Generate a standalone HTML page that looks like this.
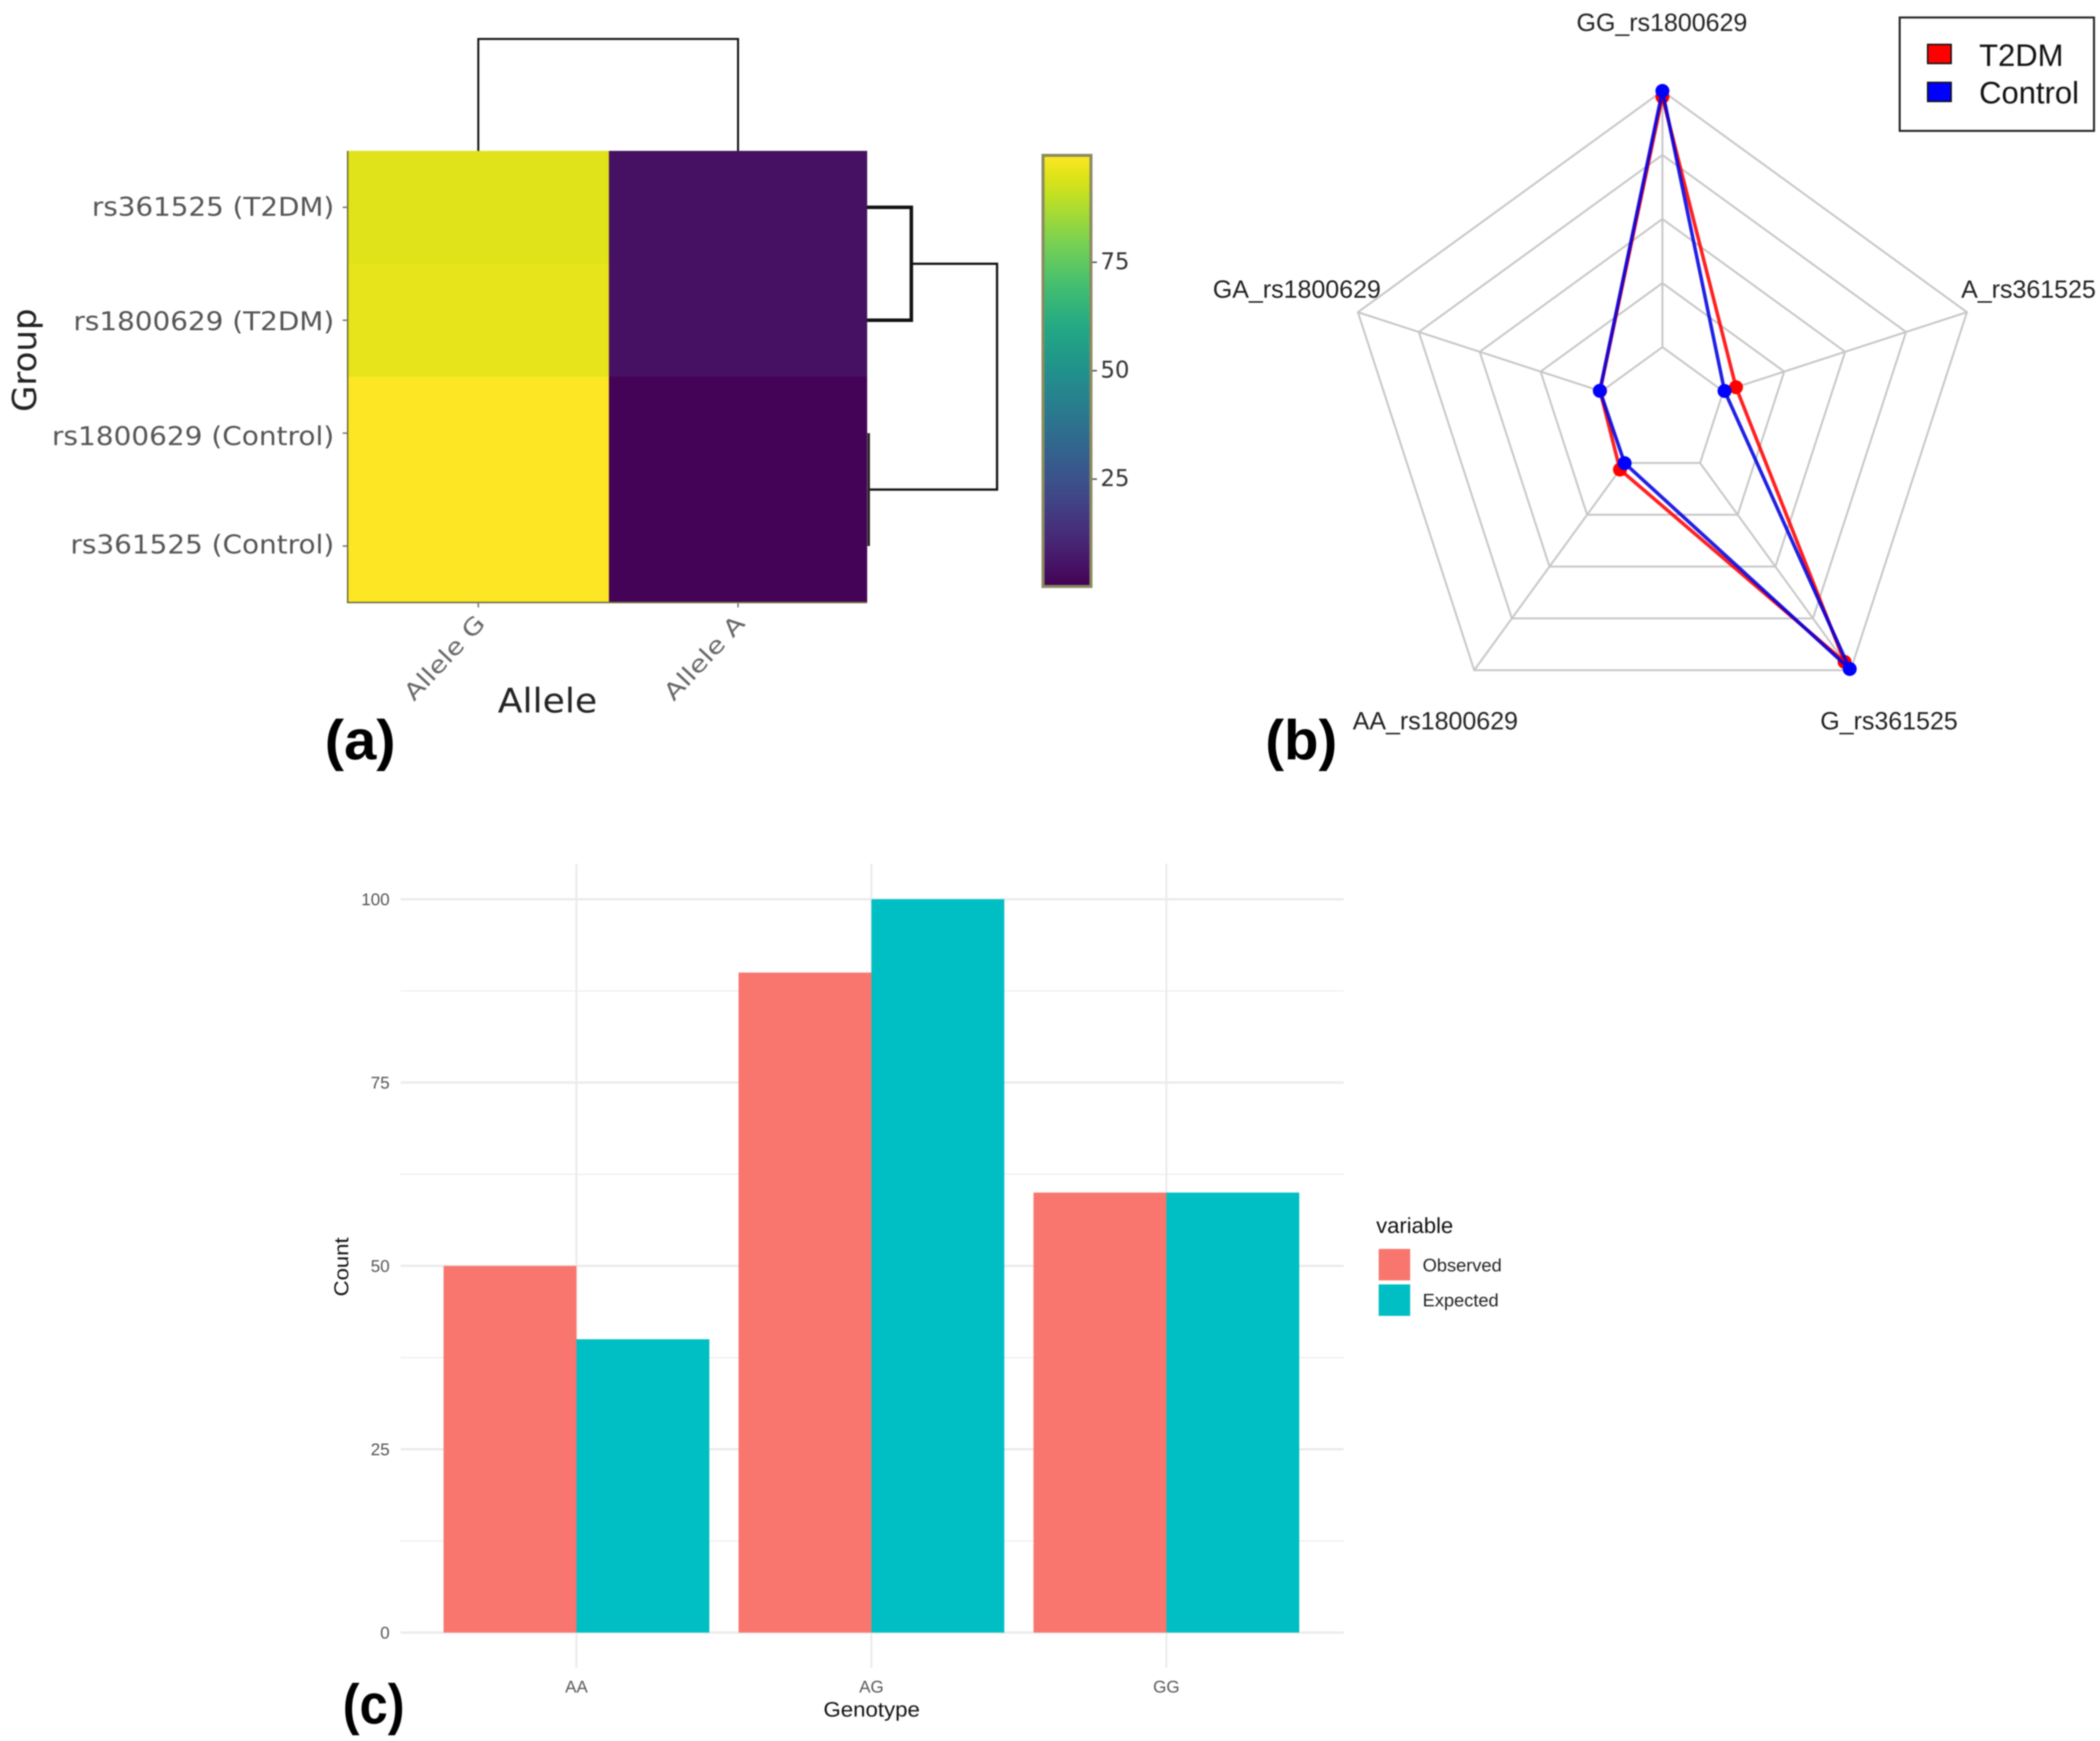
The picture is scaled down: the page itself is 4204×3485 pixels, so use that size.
<!DOCTYPE html>
<html lang="en">
<head>
<meta charset="utf-8">
<title>Allele heatmap, genotype radar and observed vs expected counts</title>
<style>
html,body{margin:0;padding:0;background:#fff;width:4204px;height:3485px;overflow:hidden}
svg{display:block;filter:blur(1.2px)}
text{font-family:"Liberation Sans",sans-serif}
.dv{font-family:"DejaVu Sans",sans-serif}
.pl{font-family:"Liberation Sans",sans-serif;font-weight:700;font-size:112px;fill:#000}
</style>
</head>
<body>
<svg id="figure" xmlns="http://www.w3.org/2000/svg" width="4204" height="3485" viewBox="0 0 4204 3485">
<rect width="4204" height="3485" fill="#fff"/>

<g id="panel-a">
  <defs>
    <linearGradient id="vir" x1="0" y1="1" x2="0" y2="0"></linearGradient>
  </defs>
  <g id="heat-cells"></g>
  <g id="heat-dendro"></g>
  <g id="heat-bar"></g>
  <g id="heat-labels"></g>
  <text class="dv" transform="translate(72,721) rotate(-90)" text-anchor="middle" font-size="66" fill="#222" textLength="207" lengthAdjust="spacingAndGlyphs">Group</text>
  <text class="dv" x="1096" y="1426" text-anchor="middle" font-size="68" fill="#222" textLength="199" lengthAdjust="spacingAndGlyphs">Allele</text>
  <text class="pl" x="650" y="1520" textLength="142" lengthAdjust="spacingAndGlyphs">(a)</text>
</g>

<g id="panel-b">
  <g id="radar-grid"></g>
  <g id="radar-series"></g>
  <g font-size="50" fill="#222">
    <text x="3327" y="62" text-anchor="middle">GG_rs1800629</text>
    <text x="3926" y="596">A_rs361525</text>
    <text x="3644" y="1460">G_rs361525</text>
    <text x="2708" y="1460">AA_rs1800629</text>
    <text x="2428" y="596">GA_rs1800629</text>
  </g>
  <g>
    <rect x="3803" y="35" width="389" height="227" fill="#fff" stroke="#222" stroke-width="4"/>
    <rect x="3859" y="89" width="47" height="38" fill="#f00" stroke="#111" stroke-width="3"/>
    <rect x="3859" y="165" width="47" height="38" fill="#00f" stroke="#111" stroke-width="3"/>
    <text x="3962" y="132" font-size="62" fill="#111">T2DM</text>
    <text x="3962" y="207" font-size="62" fill="#111">Control</text>
  </g>
  <text class="pl" x="2533" y="1520" textLength="144" lengthAdjust="spacingAndGlyphs">(b)</text>
</g>

<g id="panel-c">
  <g id="bar-grid"></g>
  <g id="bar-marks"></g>
  <g id="bar-ticks"></g>
  <text transform="translate(697,2536) rotate(-90)" text-anchor="middle" font-size="40" fill="#111" textLength="118" lengthAdjust="spacingAndGlyphs">Count</text>
  <text x="1745" y="3436" text-anchor="middle" font-size="42" fill="#111" textLength="193" lengthAdjust="spacingAndGlyphs">Genotype</text>
  <g>
    <text x="2755" y="2468" font-size="44" fill="#111">variable</text>
    <rect x="2760" y="2500" width="63" height="63" fill="#F8766D"/>
    <rect x="2760" y="2571" width="63" height="63" fill="#00BFC4"/>
    <text x="2848" y="2545" font-size="36.5" fill="#222">Observed</text>
    <text x="2848" y="2615" font-size="36.5" fill="#222">Expected</text>
  </g>
  <text class="pl" x="686" y="3450" textLength="124" lengthAdjust="spacingAndGlyphs">(c)</text>
</g>
</svg>

<script>
// ---------- Panel (a) heatmap data ----------
var heatRows = ['rs361525 (T2DM)', 'rs1800629 (T2DM)', 'rs1800629 (Control)', 'rs361525 (Control)'];
var heatCols = ['Allele G', 'Allele A'];
var heatAlleleG = [95.5, 96.5, 100, 100];
var heatAlleleA = [4.6, 4.6, 0.6, 0.6];
var colorbarTicks = [25, 50, 75];
var colTreeHeight = [1];
var rowTreeHeights = [0.34, 1];

// ---------- Panel (b) radar data ----------
var radarAxes = ['GG_rs1800629', 'A_rs361525', 'G_rs361525', 'AA_rs1800629', 'GA_rs1800629'];
var radarT2DM = [97.7, 5.2, 96.0, 3.2, 0.6];
var radarControl = [100, 0.5, 99.4, 0.1, 0.7];
var radarSegments = [0, 25, 50, 75, 100];

// ---------- Panel (c) bar data ----------
var genotypes = ['AA', 'AG', 'GG'];
var observedCounts = [50, 90, 60];
var expectedCounts = [40, 100, 60];
var countTicks = [0, 25, 50, 75, 100];
var countMinorTicks = [12.5, 37.5, 62.5, 87.5];

var NS = 'http://www.w3.org/2000/svg';
function make(parent, tag, attrs, txt) {
  var el = document.createElementNS(NS, tag);
  for (var k in attrs) el.setAttribute(k, attrs[k]);
  if (txt !== undefined) el.textContent = txt;
  document.getElementById(parent).appendChild(el);
  return el;
}

// ----- Viridis -----
var vStops = [[0,'#440154'],[.1,'#482475'],[.2,'#414487'],[.3,'#355f8d'],[.4,'#2a788e'],[.5,'#21918c'],[.6,'#22a884'],[.7,'#44bf70'],[.8,'#7ad151'],[.9,'#bddf26'],[.95,'#dde318'],[1,'#fde725']];
function hex(c){return [parseInt(c.substr(1,2),16),parseInt(c.substr(3,2),16),parseInt(c.substr(5,2),16)];}
function viridis(t){
  t = Math.max(0, Math.min(1, t));
  for (var i = 1; i < vStops.length; i++) {
    if (t <= vStops[i][0]) {
      var a = vStops[i-1], b = vStops[i], f = (t-a[0])/(b[0]-a[0]);
      var ca = hex(a[1]), cb = hex(b[1]);
      return 'rgb(' + ca.map(function(v,j){return Math.round(v+(cb[j]-v)*f);}).join(',') + ')';
    }
  }
  return '#fde725';
}
vStops.forEach(function(s, i){
  var st = make('vir', 'stop', {offset: s[0], 'stop-color': s[1]});
  
  
});

// ----- Heatmap -----
var hmLeft = 696, hmRight = 1736, hmTop = 302, hmBottom = 1206;
var colEdge = [696, 1219, 1736];
function rowTop(i){ return hmTop + (hmBottom - hmTop) * i / heatRows.length; }
function rowMid(i){ return rowTop(i + 0.5); }
function colMid(j){ return (colEdge[j] + colEdge[j+1]) / 2; }
function cval(v){ return v / 100; }
var hmSeries = [heatAlleleG, heatAlleleA];
hmSeries.forEach(function(vals, j){
  vals.forEach(function(v, i){
    var cell = make('heat-cells', 'rect', {x: colEdge[j], y: rowTop(i), width: colEdge[j+1]-colEdge[j], height: rowTop(i+1)-rowTop(i)+0.5, fill: viridis(cval(v))});
    
    
  });
});
var hmBorder = make('heat-cells', 'path', {d: 'M'+hmLeft+' '+hmTop+'V'+hmBottom+'H'+hmRight, fill: 'none', stroke: '#6b6b40', 'stroke-width': 3});



var rowWidths = [485, 522, 565, 528];
var rowNudge = [0, 3, 7, -2];
heatRows.forEach(function(lbl, i){
  var t = make('heat-labels', 'text', {'class': 'dv', x: 669, y: rowMid(i) + 17 + rowNudge[i], 'text-anchor': 'end', 'font-size': 52, fill: '#555', textLength: rowWidths[i], lengthAdjust: 'spacingAndGlyphs'}, lbl);
  
  
  var tk = make('heat-labels', 'line', {x1: 686, x2: 696, y1: rowMid(i), y2: rowMid(i), stroke: '#777', 'stroke-width': 3});
  
  
});
heatCols.forEach(function(lbl, j){
  var x = colMid(j);
  var t = make('heat-labels', 'text', {'class': 'dv', transform: 'translate(' + (x + 16) + ',1250) rotate(-47)', 'text-anchor': 'end', 'font-size': 46, fill: '#666', textLength: 212, lengthAdjust: 'spacingAndGlyphs'}, lbl);
  
  
  var tk = make('heat-labels', 'line', {x1: x, x2: x, y1: hmBottom, y2: hmBottom + 10, stroke: '#777', 'stroke-width': 3});
  
  
});

// Dendrograms
function treeTopY(h){ return hmTop - 224 * h; }
function treeRightX(h){ return 1736 + 260 * h; }
var d1 = make('heat-dendro', 'path', {d: 'M'+colMid(0)+' '+hmTop+'V'+treeTopY(colTreeHeight[0])+'H'+colMid(1)+'V'+hmTop, fill: 'none', stroke: '#111', 'stroke-width': 4});


var xIn = treeRightX(rowTreeHeights[0]), xOut = treeRightX(rowTreeHeights[1]);
var d2 = make('heat-dendro', 'path', {d: 'M1736 '+rowMid(0)+'H'+xIn+'V'+rowMid(1)+'H1736', fill: 'none', stroke: '#111', 'stroke-width': 7});


var midT = (rowMid(0)+rowMid(1))/2, midC = (rowMid(2)+rowMid(3))/2;
var d3 = make('heat-dendro', 'path', {d: 'M'+xIn+' '+midT+'H'+xOut+'V'+midC+'H1740', fill: 'none', stroke: '#111', 'stroke-width': 4.5});


var d4 = make('heat-dendro', 'path', {d: 'M1739 '+rowMid(2)+'V'+rowMid(3), fill: 'none', stroke: '#222', 'stroke-width': 5});



// Colorbar
function barY(v){ return 742 + (50 - v) * 8.68; }
var cb = make('heat-bar', 'rect', {x: 2088, y: 311, width: 96, height: 863, fill: 'url(#vir)', stroke: '#8a8a60', 'stroke-width': 6});


colorbarTicks.forEach(function(v){
  var tk = make('heat-bar', 'line', {x1: 2187, x2: 2196, y1: barY(v), y2: barY(v), stroke: '#555', 'stroke-width': 3});
  
  
  var t = make('heat-bar', 'text', {'class': 'dv', x: 2203, y: barY(v) + 14, 'font-size': 46, fill: '#333', textLength: 58, lengthAdjust: 'spacingAndGlyphs'}, String(v));
  
  
});

// ----- Radar -----
var rcx = 3328, rcy = 823, rR = 641;
function rRadius(v){ return rR * (1 + 4 * v / 100) / 5; }
function rPoint(i, v){
  var a = -Math.PI/2 + i * 2 * Math.PI / radarAxes.length, r = rRadius(v);
  return [rcx + r * Math.cos(a), rcy + r * Math.sin(a)];
}
radarSegments.forEach(function(s){
  var pts = radarAxes.map(function(_, i){ return rPoint(i, s).join(','); }).join(' ');
  var ring = make('radar-grid', 'polygon', {points: pts, fill: 'none', stroke: '#c8c8c8', 'stroke-width': 4});
  
  
});
radarAxes.forEach(function(_, i){
  var p0 = rPoint(i, 0), p1 = rPoint(i, 100);
  var sp = make('radar-grid', 'line', {x1: p0[0], y1: p0[1], x2: p1[0], y2: p1[1], stroke: '#c8c8c8', 'stroke-width': 4});
  
  
});
[[radarT2DM, '#f00', 't2dm'], [radarControl, '#0000e0', 'control']].forEach(function(s){
  var pts = s[0].map(function(v, i){ return rPoint(i, v); });
  var poly = make('radar-series', 'polygon', {points: pts.map(function(p){return p.join(',');}).join(' '), fill: 'none', stroke: s[1], 'stroke-width': 7, 'stroke-linejoin': 'round', opacity: 0.88});
  
  
  pts.forEach(function(p){
    var c = make('radar-series', 'circle', {cx: p[0], cy: p[1], r: 14, fill: s[2] === 'control' ? '#00f' : '#f00'});
    
    
  });
});

// ----- Bars -----
var y0 = 3268, y100 = 1800, xBand = 590.5, xFirst = 1154, barW = 266;
function yS(v){ return y0 + (y100 - y0) * v / 100; }
function xS(i){ return xFirst + i * xBand; }
countMinorTicks.forEach(function(v){
  var l = make('bar-grid', 'line', {x1: 802, x2: 2690, y1: yS(v), y2: yS(v), stroke: '#eeeeee', 'stroke-width': 2.5});
  
  
});
countTicks.forEach(function(v){
  var l = make('bar-grid', 'line', {x1: 802, x2: 2690, y1: yS(v), y2: yS(v), stroke: '#ebebeb', 'stroke-width': 4.5});
  
  
  var t = make('bar-ticks', 'text', {x: 780, y: yS(v) + 12, 'text-anchor': 'end', 'font-size': 34, fill: '#555'}, String(v));
  
  
});
genotypes.forEach(function(g, i){
  var l = make('bar-grid', 'line', {x1: xS(i), x2: xS(i), y1: 1729, y2: 3338, stroke: '#ebebeb', 'stroke-width': 4});
  
  
  var t = make('bar-ticks', 'text', {x: xS(i), y: 3388, 'text-anchor': 'middle', 'font-size': 34, fill: '#555'}, g);
  
  
  var ob = make('bar-marks', 'rect', {x: xS(i) - barW, y: yS(observedCounts[i]), width: barW, height: y0 - yS(observedCounts[i]), fill: '#F8766D'});
  
  
  var ex = make('bar-marks', 'rect', {x: xS(i), y: yS(expectedCounts[i]), width: barW, height: y0 - yS(expectedCounts[i]), fill: '#00BFC4'});
  
  
});
</script>
</body>
</html>
